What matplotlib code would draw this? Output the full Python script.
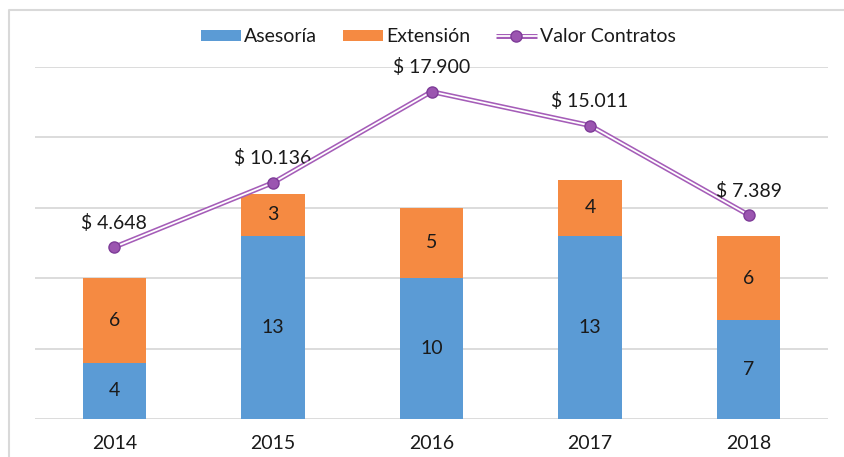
import matplotlib.pyplot as plt
import numpy as np
from matplotlib.lines import Line2D
from matplotlib.legend_handler import HandlerTuple

plt.rcParams['font.family'] = ['Lato', 'DejaVu Sans']

years = ['2014', '2015', '2016', '2017', '2018']
asesoria = [4, 13, 10, 13, 7]
extension = [6, 3, 5, 4, 6]
valor_contratos = [4648, 10136, 17900, 15011, 7389]
valor_labels = ['$ 4.648', '$ 10.136', '$ 17.900', '$ 15.011', '$ 7.389']

c_blue = '#5B9BD5'
c_orange = '#F58A42'
c_purple = '#A55DB8'
c_grid = '#D9D9D9'
fs = 14

W, H = 845, 457
fig = plt.figure(figsize=(W / 100, H / 100), dpi=100)
ax = fig.add_axes([35 / W, 1 - 419 / H, (828 - 35) / W, (419 - 67) / H])

x = np.arange(len(years))
b1 = ax.bar(x, asesoria, width=0.4, color=c_blue, label='Asesoría', zorder=2)
b2 = ax.bar(x, extension, width=0.4, bottom=asesoria, color=c_orange,
            label='Extensión', zorder=2)
ax.bar_label(b1, label_type='center', fontsize=fs, color='#1a1a1a')
ax.bar_label(b2, label_type='center', fontsize=fs, color='#1a1a1a')

ax.set_ylim(0, 25)
ax.set_yticks(range(0, 26, 5))
ax.set_xlim(-0.5, len(years) - 0.5)
ax.grid(axis='y', color=c_grid, linewidth=1.3, zorder=0)
ax.set_axisbelow(True)
ax.set_xticks(x)
ax.set_xticklabels(years)
for s in ax.spines.values():
    s.set_visible(False)

ax2 = ax.twinx()
ax2.set_ylim(-10000, 20000)
ax2.axis('off')
ax.tick_params(axis='y', left=False, right=False, labelleft=False)
ax.tick_params(axis='x', bottom=False, labelsize=fs, pad=8, colors='#1a1a1a')

l_out, = ax2.plot(x, valor_contratos, color=c_purple, linewidth=3.6, zorder=3,
                  solid_capstyle='butt')
l_in, = ax2.plot(x, valor_contratos, color='white', linewidth=1.3, zorder=4)
mk, = ax2.plot(x, valor_contratos, linestyle='none', marker='o', markersize=8,
               markerfacecolor='#9B55B0', markeredgecolor='#7E3C98',
               markeredgewidth=1.0, zorder=5)
for xi, v, lab in zip(x, valor_contratos, valor_labels):
    ax2.annotate(lab, (xi, v), xytext=(0, 11), textcoords='offset points',
                 ha='center', va='bottom', fontsize=fs, color='#1a1a1a')

handles = [b1, b2, (l_out, l_in, mk)]
labels = ['Asesoría', 'Extensión', 'Valor Contratos']
fig.legend(handles, labels, loc='center', bbox_to_anchor=(438 / W, 1 - 37 / H),
           ncol=3, frameon=False, fontsize=fs, handlelength=2.1,
           handleheight=0.5, handletextpad=0.15, columnspacing=1.3,
           handler_map={tuple: HandlerTuple(ndivide=1)},
           labelcolor='#1a1a1a')

fig.add_artist(Line2D([9.5 / W, 9.5 / W, 1], [0, 1 - 9.5 / H, 1 - 9.5 / H],
                      transform=fig.transFigure, color='#D9D9D9', linewidth=1.5))

fig.savefig('out.png', dpi=100)
